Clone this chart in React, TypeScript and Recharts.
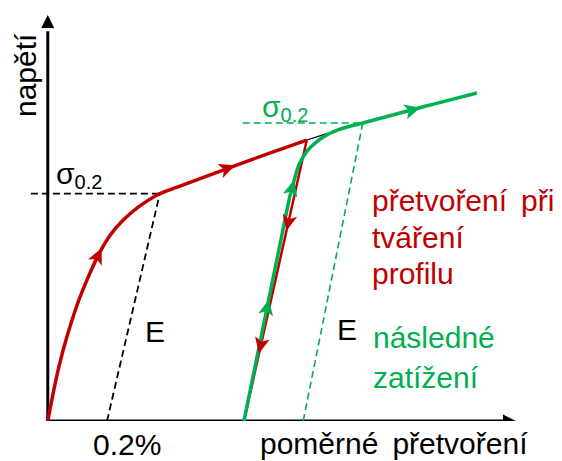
import React from "react";
import { ComposedChart, Line, Scatter, XAxis, YAxis } from "recharts";

const W = 562;
const H = 461;
const M = { top: 15, right: 46, bottom: 40, left: 30 };
const X_DOMAIN: [number, number] = [-0.06, 1.58];
const Y_DOMAIN: [number, number] = [0, 500];

const RED = "#c00000";
const GREEN = "#00b050";
const FONT = "'Liberation Sans', Arial, Helvetica, sans-serif";

// relative strain in %, stress in MPa (schematic)
// red: strain while forming the profile
const formingStrain = [0, 0.017, 0.037, 0.064, 0.101, 0.135, 0.169, 0.209, 0.253, 0.304, 0.344, 0.378, 0.429, 0.496, 0.614, 0.749, 0.874];
const formingStress = [0, 32, 66, 103, 145, 176, 203, 228, 247, 263, 273, 280, 287, 296, 312, 330, 346];
const unloadStrain = [0.874, 0.662];
const unloadStress = [346, 0];
// thin black continuation of the original curve
const virginStrain = [0.874, 0.969, 1.063];
const virginStress = [346, 357, 367];
// green: subsequent loading
const reloadStrain = [0.662, 0.8, 0.817, 0.834, 0.851, 0.874, 0.901, 0.935, 0.975, 1.019, 1.063, 1.154, 1.299, 1.448];
const reloadStress = [0, 247, 276, 300, 318, 332, 342, 351, 358, 363, 367, 376, 390, 404];

// 0.2 % offset lines and proof stresses
const sigma02 = 280;
const sigma02New = 367;
const offsetStrain = [0.2, 0.378];
const offsetNewStrain = [0.862, 1.063];
const proofLeft = -0.057;
const proofNewLeft = 0.658;

// arrow positions along the paths
const formingArrowX = [0.169, 0.604];
const formingArrowY = [203, 311];
const unloadArrowX = [0.812, 0.719];
const unloadArrowY = [245, 94];
const reloadArrowX = [0.74, 0.8235, 1.2285];
const reloadArrowY = [139, 286, 383];

type P = { x: number; y: number };
const zip = (xs: number[], ys: number[]): P[] => xs.map((x, i) => ({ x, y: ys[i] }));

const forming = zip(formingStrain, formingStress);
const unload = zip(unloadStrain, unloadStress);
const virgin = zip(virginStrain, virginStress);
const reload = zip(reloadStrain, reloadStress);
const offsetLine = zip(offsetStrain, [0, sigma02]);
const offsetNewLine = zip(offsetNewStrain, [0, sigma02New]);
const proofLine = zip([proofLeft, offsetStrain[1]], [sigma02, sigma02]);
const proofNewLine = zip([proofNewLeft, offsetNewStrain[1]], [sigma02New, sigma02New]);
const xAxisLine = zip([-0.004, 1.56], [0, 0]);
const yAxisLine = zip([0, 0], [0, 480]);
const axisTips = zip([1.58, 0], [0, 500]);

const KX = (W - M.left - M.right) / (X_DOMAIN[1] - X_DOMAIN[0]);
const KY = (H - M.top - M.bottom) / (Y_DOMAIN[1] - Y_DOMAIN[0]);

// direction (deg, screen space) of the path segment nearest to p
function angleOn(path: P[], p: P) {
  let best = 0;
  let bestD = Infinity;
  for (let i = 0; i < path.length - 1; i++) {
    const ax = path[i].x * KX, ay = path[i].y * KY;
    const bx = path[i + 1].x * KX, by = path[i + 1].y * KY;
    const px = p.x * KX, py = p.y * KY;
    const vx = bx - ax, vy = by - ay;
    const t = Math.max(0, Math.min(1, ((px - ax) * vx + (py - ay) * vy) / (vx * vx + vy * vy)));
    const d = Math.hypot(ax + t * vx - px, ay + t * vy - py);
    if (d < bestD) {
      bestD = d;
      best = i;
    }
  }
  const a = path[best], b = path[best + 1];
  return (Math.atan2(-(b.y - a.y) * KY, (b.x - a.x) * KX) * 180) / Math.PI;
}

const arrowShape = (path: P[], color: string) => (props: any) => {
  const { cx, cy, payload } = props;
  if (cx == null || cy == null) return <g />;
  const a = angleOn(path, payload);
  return (
    <path
      d="M9,0 L-7,-7.5 L-3,0 L-7,7.5 Z"
      fill={color}
      transform={`translate(${cx},${cy}) rotate(${a})`}
    />
  );
};

const axisTipShape = (props: any) => {
  const { cx, cy, payload } = props;
  if (cx == null || cy == null) return <g />;
  const a = payload.x > 0 ? 0 : -90;
  return <path d="M0,0 L-13,-6.5 L-13,6.5 Z" fill="#000" transform={`translate(${cx},${cy}) rotate(${a})`} />;
};

const txt = { fontFamily: FONT, fontSize: 30 };

export default function App() {
  return (
    <div style={{ position: "absolute", left: 0, top: 0, background: "#fff" }}>
      <ComposedChart width={W} height={H} margin={M}>
        <XAxis type="number" dataKey="x" domain={X_DOMAIN} hide allowDataOverflow />
        <YAxis type="number" dataKey="y" domain={Y_DOMAIN} hide allowDataOverflow />

        <Line data={xAxisLine} dataKey="y" type="linear" stroke="#000" strokeWidth={3} dot={false} isAnimationActive={false} />
        <Line data={yAxisLine} dataKey="y" type="linear" stroke="#000" strokeWidth={3} dot={false} isAnimationActive={false} />

        <Line data={proofLine} dataKey="y" type="linear" stroke="#000" strokeWidth={1.8} strokeDasharray="7 4" dot={false} isAnimationActive={false} />
        <Line data={offsetLine} dataKey="y" type="linear" stroke="#000" strokeWidth={1.8} strokeDasharray="7 4" dot={false} isAnimationActive={false} />
        <Line data={proofNewLine} dataKey="y" type="linear" stroke={GREEN} strokeWidth={1.6} strokeDasharray="7 4" dot={false} isAnimationActive={false} />
        <Line data={offsetNewLine} dataKey="y" type="linear" stroke={GREEN} strokeWidth={1.6} strokeDasharray="7 4" dot={false} isAnimationActive={false} />

        <Line data={virgin} dataKey="y" type="natural" stroke="#000" strokeWidth={1.2} dot={false} isAnimationActive={false} />
        <Line data={forming} dataKey="y" type="natural" stroke={RED} strokeWidth={3.5} dot={false} isAnimationActive={false} />
        <Line data={unload} dataKey="y" type="linear" stroke={RED} strokeWidth={2.5} dot={false} isAnimationActive={false} />
        <Line data={reload} dataKey="y" type="natural" stroke={GREEN} strokeWidth={3.5} dot={false} isAnimationActive={false} />

        <Scatter data={zip(formingArrowX, formingArrowY)} shape={arrowShape(forming, RED)} isAnimationActive={false} />
        <Scatter data={zip(unloadArrowX, unloadArrowY)} shape={arrowShape(unload, RED)} isAnimationActive={false} />
        <Scatter data={zip(reloadArrowX, reloadArrowY)} shape={arrowShape(reload, GREEN)} isAnimationActive={false} />
        <Scatter data={axisTips} shape={axisTipShape} isAnimationActive={false} />

        <text transform="translate(36,117) rotate(-90)" {...txt}>napětí</text>
        <text x={56} y={184} {...txt}>
          σ<tspan fontSize={20} dy={5}>0.2</tspan>
        </text>
        <text x={262} y={117} {...txt} fill={GREEN}>
          σ<tspan fontSize={20} dy={5}>0.2</tspan>
        </text>
        <text x={145} y={342} {...txt}>E</text>
        <text x={337} y={340} {...txt}>E</text>
        <text x={372} y={211} {...txt} fill={RED}>
          přetvoření<tspan dx={14}>při</tspan>
        </text>
        <text x={372} y={248} {...txt} fill={RED}>tváření</text>
        <text x={372} y={284} {...txt} fill={RED}>profilu</text>
        <text x={373} y={348} {...txt} fill={GREEN}>následné</text>
        <text x={373} y={388} {...txt} fill={GREEN}>zatížení</text>
        <text x={93} y={455} {...txt}>0.2%</text>
        <text x={260} y={454} {...txt}>
          poměrné<tspan dx={14}>přetvoření</tspan>
        </text>
      </ComposedChart>
    </div>
  );
}
